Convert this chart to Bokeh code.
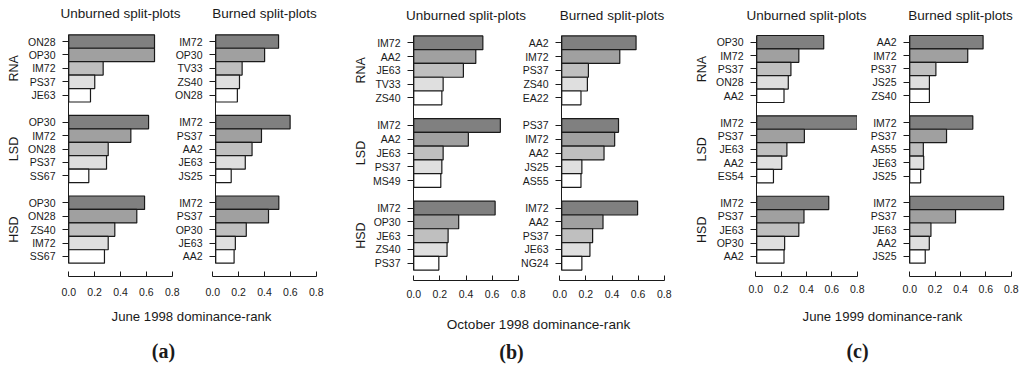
import math
from bokeh.plotting import figure
from bokeh.models import Range1d, FixedTicker, Label, NumeralTickFormatter, ColumnDataSource
from bokeh.core.properties import value
from bokeh.layouts import row, column
from bokeh.embed import file_html
from bokeh.resources import INLINE

# ---------------- data ----------------
groups = ["RNA", "LSD", "HSD"]
x_ticks = [0.0, 0.2, 0.4, 0.6, 0.8]
column_titles = ["Unburned split-plots", "Burned split-plots"]
panel_letters = ["(a)", "(b)", "(c)"]
x_titles = ["June 1998 dominance-rank", "October 1998 dominance-rank", "June 1999 dominance-rank"]

# (a) June 1998 -- per group (RNA, LSD, HSD), 5 species each
a_unburned_species = ["ON28", "OP30", "IM72", "PS37", "JE63",
                      "OP30", "IM72", "ON28", "PS37", "SS67",
                      "OP30", "ON28", "ZS40", "IM72", "SS67"]
a_unburned_values = [0.663, 0.663, 0.266, 0.201, 0.168,
                     0.617, 0.480, 0.305, 0.292, 0.155,
                     0.586, 0.526, 0.356, 0.305, 0.276]
a_burned_species = ["IM72", "OP30", "TV33", "ZS40", "ON28",
                    "IM72", "PS37", "AA2", "JE63", "JS25",
                    "IM72", "PS37", "OP30", "JE63", "AA2"]
a_burned_values = [0.500, 0.389, 0.210, 0.189, 0.172,
                   0.592, 0.364, 0.289, 0.235, 0.123,
                   0.502, 0.420, 0.243, 0.156, 0.146]

# (b) October 1998
b_unburned_species = ["IM72", "AA2", "JE63", "TV33", "ZS40",
                      "IM72", "AA2", "JE63", "PS37", "MS49",
                      "IM72", "OP30", "JE63", "ZS40", "PS37"]
b_unburned_values = [0.529, 0.475, 0.380, 0.225, 0.215,
                     0.663, 0.418, 0.225, 0.215, 0.207,
                     0.623, 0.344, 0.263, 0.255, 0.192]
b_burned_species = ["AA2", "IM72", "PS37", "ZS40", "EA22",
                    "PS37", "IM72", "AA2", "JS25", "AS55",
                    "IM72", "AA2", "PS37", "JE63", "NG24"]
b_burned_values = [0.580, 0.453, 0.208, 0.200, 0.150,
                   0.443, 0.413, 0.330, 0.157, 0.150,
                   0.592, 0.322, 0.241, 0.220, 0.157]

# (c) June 1999
c_unburned_species = ["OP30", "IM72", "PS37", "ON28", "AA2",
                      "IM72", "PS37", "JE63", "AA2", "ES54",
                      "IM72", "PS37", "JE63", "OP30", "AA2"]
c_unburned_values = [0.533, 0.335, 0.272, 0.251, 0.217,
                     0.800, 0.379, 0.240, 0.199, 0.133,
                     0.573, 0.376, 0.335, 0.222, 0.217]
c_burned_species = ["AA2", "IM72", "PS37", "JS25", "ZS40",
                    "IM72", "PS37", "AS55", "JE63", "JS25",
                    "IM72", "PS37", "JE63", "AA2", "JS25"]
c_burned_values = [0.578, 0.457, 0.206, 0.155, 0.155,
                   0.497, 0.290, 0.107, 0.110, 0.086,
                   0.740, 0.361, 0.167, 0.154, 0.122]

shades = ["#808080", "#a0a0a0", "#bfbfbf", "#dfdfdf", "#ffffff"]

# ---------------- styling / layout ----------------
SANS = "Liberation Sans"
INK = "#1a1a1a"
X0, X1 = -0.002, 0.802


def slots():
    # top-to-bottom positions: 5 bars, a blank slot, 5 bars, blank, 5 bars
    return [16 - (6 * g + r) for g in range(3) for r in range(5)]


def base(w, h, xr, yr, bl=0, br=0, bt=0, bb=0, xloc=None):
    p = figure(width=w, height=h, x_range=xr, y_range=yr,
               x_axis_location=xloc, y_axis_location=None,
               output_backend="svg", toolbar_location=None,
               min_border_left=bl, min_border_right=br,
               min_border_top=bt, min_border_bottom=bb)
    p.outline_line_color = None
    p.grid.visible = False
    p.background_fill_color = "white"
    p.border_fill_color = "white"
    return p


def header_fig(L):
    p = base(L["w"], L["h"], Range1d(0, L["w"]), Range1d(0, L["h"]))
    for t, x in zip(column_titles, L["xs"]):
        p.add_layout(Label(x=x, y=L["y"], text=t, text_align="center",
                           text_baseline="middle", text_font=SANS,
                           text_font_size="13.5px", text_color=INK))
    return p


def group_fig(L, R):
    p = base(L["w"], R["h"], Range1d(0, L["w"]), Range1d(R["y0"], R["y1"]), bt=R["bt"])
    p.text(x=[L["x"]] * len(groups), y=[14.0, 8.0, 2.0], text=groups,
           angle=math.pi / 2, text_align="center", text_baseline="middle",
           text_font=value(SANS), text_font_size=value("12.5px"), text_color=INK)
    return p


def bar_fig(species, values, L, R):
    ys = slots()
    colors = [shades[r] for g in range(3) for r in range(5)]
    src = ColumnDataSource(dict(y=ys, v=values, c=colors))
    p = figure(width=L["w"], height=R["h"], x_range=Range1d(X0, X1),
               y_range=Range1d(R["y0"], R["y1"]), x_axis_location=None,
               y_axis_location="left", output_backend="svg", toolbar_location=None,
               min_border_left=L["bl"], min_border_right=L["br"],
               min_border_top=R["bt"], min_border_bottom=0)
    p.outline_line_color = None
    p.grid.visible = False
    p.hbar(y="y", left=0, right="v", height=1.0, fill_color="c",
           line_color=INK, line_width=1.2, source=src)
    ax = p.yaxis[0]
    ax.ticker = FixedTicker(ticks=ys)
    ax.major_label_overrides = {float(y): s for y, s in zip(ys, species)}
    ax.bounds = (-0.5, 16.5)
    ax.axis_line_color = INK
    ax.major_tick_line_color = INK
    ax.minor_tick_line_color = None
    ax.major_tick_out = 6
    ax.major_tick_in = 0
    ax.major_label_standoff = 7
    ax.major_label_text_font = SANS
    ax.major_label_text_font_size = "10.5px"
    ax.major_label_text_color = INK
    return p


def axis_fig(L, A):
    p = base(L["w"], A["h"], Range1d(X0, X1), Range1d(0, 1),
             bl=L["bl"], br=L["br"], bb=A["bb"], xloc="below")
    ax = p.xaxis[0]
    ax.ticker = FixedTicker(ticks=x_ticks)
    ax.formatter = NumeralTickFormatter(format="0.0")
    ax.bounds = (0, 0.8)
    ax.axis_line_color = INK
    ax.major_tick_line_color = INK
    ax.minor_tick_line_color = None
    ax.major_tick_in = 5
    ax.major_tick_out = 0
    ax.major_label_standoff = A["ls"]
    ax.major_label_text_font = SANS
    ax.major_label_text_font_size = "10.5px"
    ax.major_label_text_color = INK
    return p


def text_fig(L, xtitle, letter):
    p = base(L["w"], L["h"], Range1d(0, L["w"]), Range1d(0, L["h"]))
    p.add_layout(Label(x=L["tx"], y=L["tty"], text=xtitle, text_align="center",
                       text_baseline="middle", text_font=SANS, text_font_size=L["xfs"],
                       text_color=INK))
    p.add_layout(Label(x=L["lx"], y=L["ly"], text=letter, text_align="center",
                       text_baseline="middle", text_font="Liberation Serif",
                       text_font_style="bold", text_font_size="20px", text_color=INK))
    return p


layouts = [
    dict(  # (a)  x 0..345
        hd=dict(w=345, h=25, xs=[120, 264], y=12.3),
        R=dict(h=239, bt=8, y0=-0.597, y1=16.597),
        g=dict(w=25, x=13),
        u=dict(w=147, bl=43, br=0),
        b=dict(w=173, bl=40, br=29),
        A=dict(h=41, bb=29, ls=11),
        au=dict(w=184, bl=68, br=12),
        ab=dict(w=161, bl=28, br=29),
        t=dict(w=345, h=61, tx=191, tty=50, lx=163, ly=16, xfs="13.2px"),
    ),
    dict(  # (b)  x 345..690
        hd=dict(w=345, h=25, xs=[120.5, 266.5], y=10.3),
        R=dict(h=246, bt=9, y0=-0.6025, y1=16.603),
        g=dict(w=25, x=15),
        u=dict(w=148, bl=43, br=0),
        b=dict(w=172, bl=41, br=26),
        A=dict(h=36, bb=27, ls=9),
        au=dict(w=195, bl=68, br=22),
        ab=dict(w=150, bl=19, br=26),
        t=dict(w=345, h=59, tx=193, tty=42, lx=166, ly=15, xfs="13.6px"),
    ),
    dict(  # (c)  x 690..1024
        hd=dict(w=334, h=25, xs=[116, 270], y=10),
        R=dict(h=239, bt=8, y0=-0.5975, y1=16.65),
        g=dict(w=23, x=11.3),
        u=dict(w=144, bl=42, br=0),
        b=dict(w=167, bl=52, br=13),
        A=dict(h=39, bb=27, ls=8),
        au=dict(w=190, bl=65, br=23),
        ab=dict(w=144, bl=29, br=13),
        t=dict(w=334, h=63, tx=192, tty=50, lx=167, ly=16, xfs="13.2px"),
    ),
]

panel_data = [
    (a_unburned_species, a_unburned_values, a_burned_species, a_burned_values),
    (b_unburned_species, b_unburned_values, b_burned_species, b_burned_values),
    (c_unburned_species, c_unburned_values, c_burned_species, c_burned_values),
]

panels = []
for i, (us, uv, bs, bv) in enumerate(panel_data):
    L = layouts[i]
    hd = header_fig(L["hd"])
    gf = group_fig(L["g"], L["R"])
    fu = bar_fig(us, uv, L["u"], L["R"])
    fb = bar_fig(bs, bv, L["b"], L["R"])
    au = axis_fig(L["au"], L["A"])
    ab = axis_fig(L["ab"], L["A"])
    tf = text_fig(L["t"], x_titles[i], panel_letters[i])
    panels.append(column(hd, row(gf, fu, fb), row(au, ab), tf))

page = row(*panels)
open("out.html", "w").write(file_html(page, INLINE))
